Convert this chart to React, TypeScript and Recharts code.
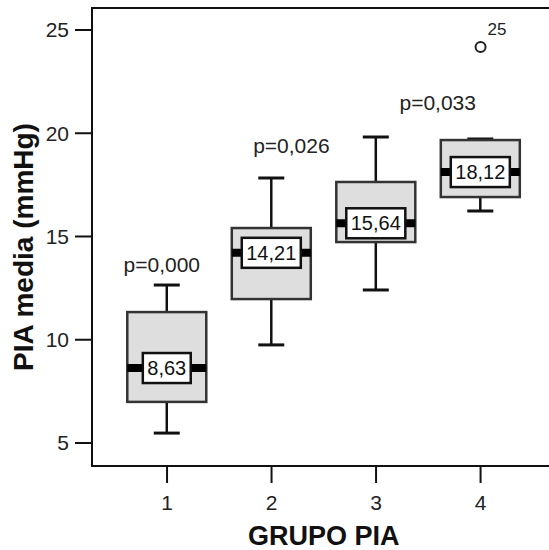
import React from 'react';
import {
  ComposedChart, Bar, Scatter, XAxis, YAxis, ReferenceArea, Label,
} from 'recharts';

const FONT = '"Liberation Sans", Arial, sans-serif';

// groups and box plot summary values (PIA media, mmHg)
const groups = [1, 2, 3, 4];
const whiskerLow = [5.48, 9.75, 12.41, 16.23];
const q1 = [6.99, 11.97, 14.73, 16.91];
const medians = [8.63, 14.21, 15.64, 18.12];
const q3 = [11.34, 15.41, 17.64, 19.67];
const whiskerHigh = [12.65, 17.83, 19.82, 19.72];
const medianLabels = ['8,63', '14,21', '15,64', '18,12'];

// outlier
const outlierGroup = [4];
const outlierValue = [24.18];
const outlierCase = ['25'];

// p-value annotations (x in group units, y in mmHg)
const pTexts = ['p=0,000', 'p=0,026', 'p=0,033'];
const pX = [0.95, 2.19, 3.59];
const pY = [13.26, 19.06, 21.13];

const yTicks = [5, 10, 15, 20, 25];
const xDomain: [number, number] = [0.282, 4.718];
const yDomain: [number, number] = [3.886, 26.065];

const BOX_W = 79;

const boxData = groups.map((g, i) => ({
  x: g,
  range: [whiskerLow[i], whiskerHigh[i]],
  q1: q1[i],
  q3: q3[i],
  median: medians[i],
  label: medianLabels[i],
}));

const outlierData = outlierGroup.map((g, i) => ({ x: g, y: outlierValue[i], label: outlierCase[i] }));
const pData = pTexts.map((t, i) => ({ x: pX[i], y: pY[i], text: t }));

function textWidth(s: string, size: number) {
  let w = 0;
  for (const ch of s) w += ch === ',' ? 0.278 : 0.556;
  return w * size;
}

function BoxShape(props: any) {
  const { x, y, width, height, payload } = props;
  const top = Math.min(y, y + height);
  const bottom = Math.max(y, y + height);
  const [lo, hi] = payload.range;
  const py = (v: number) => (hi === lo ? top : top + ((hi - v) / (hi - lo)) * (bottom - top));
  const cx = x + width / 2;
  const left = cx - BOX_W / 2;
  const capHalf = 13;
  const yQ1 = py(payload.q1);
  const yQ3 = py(payload.q3);
  const yMed = py(payload.median);
  const lw = textWidth(payload.label, 20) + 9;
  return (
    <g>
      <line x1={cx} x2={cx} y1={top} y2={bottom} stroke="#111" strokeWidth={2.5} />
      <line x1={cx - capHalf} x2={cx + capHalf} y1={top} y2={top} stroke="#111" strokeWidth={3} />
      <line x1={cx - capHalf} x2={cx + capHalf} y1={bottom} y2={bottom} stroke="#111" strokeWidth={3} />
      <rect x={left} y={yQ3} width={BOX_W} height={yQ1 - yQ3} fill="#dedede" stroke="#333" strokeWidth={2.5} />
      <line x1={left} x2={left + BOX_W} y1={yMed} y2={yMed} stroke="#000" strokeWidth={8} />
      <rect x={cx - lw / 2} y={yMed - 15} width={lw} height={30} fill="#fff" stroke="#111" strokeWidth={2.5} />
      <text x={cx} y={yMed} dy="0.36em" textAnchor="middle" fontSize={20} fontFamily={FONT} fill="#111">
        {payload.label}
      </text>
    </g>
  );
}

function OutlierShape(props: any) {
  const { cx, cy, payload } = props;
  return (
    <g>
      <circle cx={cx} cy={cy} r={5} fill="#fff" stroke="#222" strokeWidth={2} />
      <text x={cx + 7} y={cy - 12} fontSize={17} fontFamily={FONT} fill="#222">{payload.label}</text>
    </g>
  );
}

function PText(props: any) {
  const { cx, cy, payload } = props;
  return (
    <text x={cx} y={cy} textAnchor="middle" fontSize={21} fontFamily={FONT} fill="#222">
      {payload.text}
    </text>
  );
}

function YTitle(props: any) {
  const { viewBox } = props;
  const cy = viewBox.y + viewBox.height / 2 + 10;
  return (
    <text
      x={33}
      y={cy}
      transform={`rotate(-90, 33, ${cy})`}
      textAnchor="middle"
      fontSize={28}
      fontWeight="bold"
      fontFamily={FONT}
      fill="#111"
    >
      PIA media (mmHg)
    </text>
  );
}

export default function App() {
  return (
    <div style={{ position: 'absolute', left: 0, top: 0, width: 549, height: 550, overflow: 'hidden', background: '#fff' }}>
      <ComposedChart
        width={570}
        height={550}
        data={boxData}
        margin={{ top: 8, right: 14.4, left: 0, bottom: 0 }}
      >
        <ReferenceArea
          x1={xDomain[0]} x2={xDomain[1]} y1={yDomain[0]} y2={yDomain[1]}
          fill="none" stroke="#111" strokeWidth={2} ifOverflow="visible"
        />
        <XAxis
          type="number"
          dataKey="x"
          domain={xDomain}
          ticks={groups}
          allowDataOverflow
          height={84}
          tickSize={17}
          tickMargin={12}
          axisLine={{ stroke: '#111', strokeWidth: 2 }}
          tickLine={{ stroke: '#111', strokeWidth: 2 }}
          tick={{ fontSize: 21, fill: '#222', fontFamily: FONT }}
        >
          <Label
            value="GRUPO PIA"
            position="insideBottom"
            offset={5}
            style={{ fontSize: 27, fontWeight: 'bold', fontFamily: FONT, fill: '#111' }}
          />
        </XAxis>
        <YAxis
          type="number"
          domain={yDomain}
          ticks={yTicks}
          allowDataOverflow
          width={92}
          tickSize={17}
          tickMargin={6}
          axisLine={{ stroke: '#111', strokeWidth: 2 }}
          tickLine={{ stroke: '#111', strokeWidth: 2 }}
          tick={{ fontSize: 21, fill: '#222', fontFamily: FONT }}
        >
          <Label content={<YTitle />} />
        </YAxis>
        <Bar dataKey="range" barSize={BOX_W} shape={<BoxShape />} isAnimationActive={false} />
        <Scatter data={outlierData} dataKey="y" shape={<OutlierShape />} isAnimationActive={false} />
        <Scatter data={pData} dataKey="y" shape={<PText />} isAnimationActive={false} />
      </ComposedChart>
    </div>
  );
}
